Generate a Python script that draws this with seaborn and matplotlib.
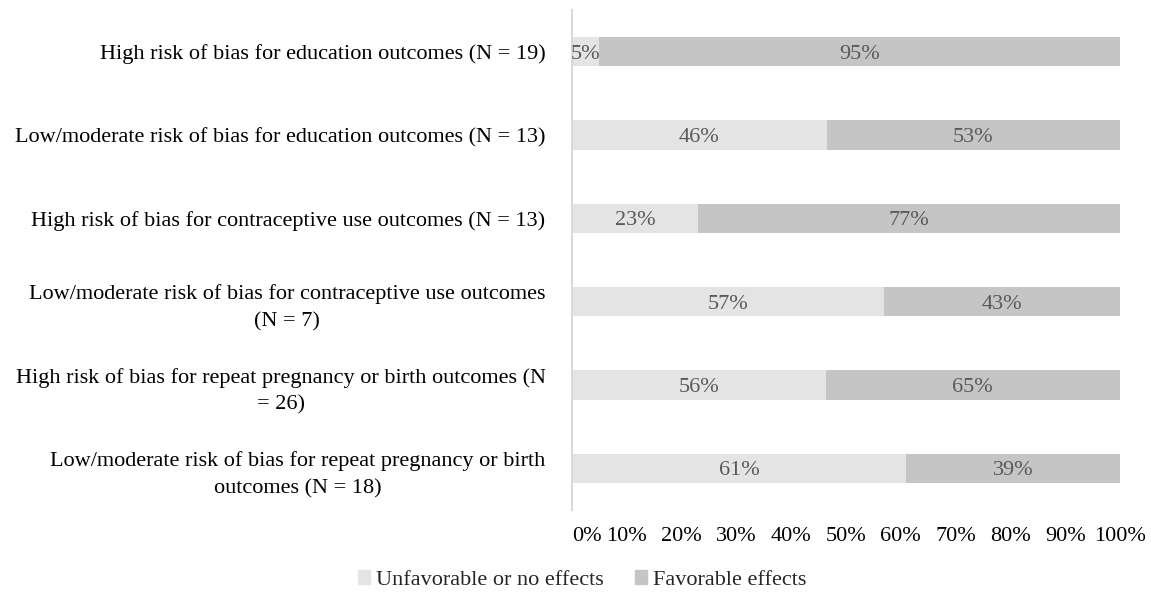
import numpy as np
import pandas as pd
import matplotlib
matplotlib.use("Agg")
import matplotlib.pyplot as plt
import matplotlib.patches as mpatches
import seaborn as sns

categories = [
    "High risk of bias for education outcomes (N = 19)",
    "Low/moderate risk of bias for education outcomes (N = 13)",
    "High risk of bias for contraceptive use outcomes (N = 13)",
    "Low/moderate risk of bias for contraceptive use outcomes\n(N = 7)",
    "High risk of bias for repeat pregnancy or birth outcomes (N\n= 26)",
    "Low/moderate risk of bias for repeat pregnancy or birth\noutcomes (N = 18)",
]
unfavorable = [5, 46, 23, 57, 56, 61]
favorable = [95, 53, 77, 43, 65, 39]
series_names = ["Unfavorable or no effects", "Favorable effects"]
xticks = [0, 10, 20, 30, 40, 50, 60, 70, 80, 90, 100]

col_unfav = "#E4E4E4"
col_fav = "#C4C5C4"
txt_grey = "#595959"
FS = 16

sns.set_style("white")
plt.rcParams["font.family"] = ["Liberation Serif", "DejaVu Serif"]

u = np.array(unfavorable, dtype=float)
f = np.array(favorable, dtype=float)
tot = u + f
u_share = u / tot
cum_share = (u + f) / tot

df = pd.DataFrame({"cat": categories, "unfav": u_share, "cum": cum_share})

fig = plt.figure(figsize=(11.51, 5.95), dpi=100)
ax = fig.add_axes([572 / 1151, 1 - 510 / 595, (1120 - 572) / 1151, 500 / 595])

sns.barplot(data=df, x="cum", y="cat", orient="h", color=col_fav, saturation=1,
            width=0.35, linewidth=0, ax=ax, order=categories)
sns.barplot(data=df, x="unfav", y="cat", orient="h", color=col_unfav, saturation=1,
            width=0.35, linewidth=0, ax=ax, order=categories)

for i in range(len(categories)):
    ax.text(u_share[i] / 2, i, f"{unfavorable[i]}%", ha="center",
            va="center_baseline", fontsize=FS, color=txt_grey)
    ax.text(u_share[i] + (cum_share[i] - u_share[i]) / 2, i, f"{favorable[i]}%",
            ha="center", va="center_baseline", fontsize=FS, color=txt_grey)

ax.set_xlim(0, 1)
ax.set_ylim(len(categories) - 0.5, -0.5)
ax.set_xticks([t / 100 for t in xticks])
ax.set_xticklabels([f"{t}%" for t in xticks])
ax.set_xlabel("")
ax.set_ylabel("")
ax.tick_params(axis="x", length=0, pad=12.5, labelsize=FS, labelcolor="black")
ax.tick_params(axis="y", length=0, pad=19, labelsize=FS, labelcolor="black")
for lab in ax.get_yticklabels():
    lab.set_multialignment("center")
    lab.set_linespacing(1.55)
ax.get_xticklabels()[0].set_horizontalalignment("left")

for s in ["top", "right", "bottom"]:
    ax.spines[s].set_visible(False)
ax.spines["left"].set_color("#D9D9D9")
ax.spines["left"].set_linewidth(1.5)
ax.grid(False)

handles = [mpatches.Patch(color=col_unfav, label=series_names[0]),
           mpatches.Patch(color=col_fav, label=series_names[1])]
fig.legend(handles=handles, loc="center", bbox_to_anchor=(582 / 1151, 1 - 580 / 595),
           ncol=2, frameon=False, fontsize=FS, handlelength=0.55, handleheight=0.55,
           handletextpad=0.25, columnspacing=1.4)

fig.savefig("out.png", dpi=100)
